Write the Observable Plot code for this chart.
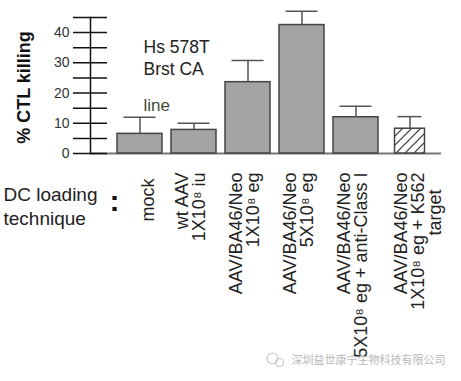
<!DOCTYPE html>
<html>
<head>
<meta charset="utf-8">
<script src="https://cdn.jsdelivr.net/npm/d3@7"></script>
<script src="https://cdn.jsdelivr.net/npm/@observablehq/plot@0.6"></script>
<style>
  html, body { margin: 0; padding: 0; background: #fff; }
</style>
</head>
<body>
<div id="chart"></div>
<script>
// ---- data ----
const categories = ["mock", "wtAAV", "AAV1e8", "AAV5e8", "AAVclassI", "AAVK562"];
const values = [6.5, 7.8, 23.6, 42.5, 12.0, 8.2];
const errorTops = [12.0, 10.0, 30.8, 47.1, 15.6, 12.2];
const hatched = [false, false, false, false, false, true];
const labelLines = [
  ["mock"],
  ["wt AAV", "1X10⁸ iu"],
  ["AAV/BA46/Neo", "1X10⁸ eg"],
  ["AAV/BA46/Neo", "5X10⁸ eg"],
  ["AAV/BA46/Neo", "5X10⁸ eg + anti-Class I"],
  ["AAV/BA46/Neo", "1X10⁸ eg + K562", "target"]
];
const yTickLabels = [0, 10, 20, 30, 40];
const yTickMarks = [0, 5, 10, 15, 20, 25, 30, 35, 40, 45];
const yTitle = "% CTL killing";
const xTitle = "DC loading\ntechnique";
const noteText = "Hs 578T\nBrst CA";
const noteText2 = "line";
const watermark = "深圳益世康宁生物科技有限公司";

const data = categories.map((c, i) => ({
  cat: c, value: values[i], upper: errorTops[i], hatched: hatched[i],
  lines: labelLines[i]
}));
const solid = data.filter(d => !d.hatched);
const hatch = data.filter(d => d.hatched);

const font = "'Liberation Sans', Arial, Helvetica, sans-serif";

const chart = Plot.plot({
  width: 461,
  height: 381,
  marginLeft: 90,
  marginRight: 20,
  marginTop: 17,
  marginBottom: 228,
  style: { fontFamily: font, background: "#fff", color: "#222", overflow: "visible" },
  x: { type: "band", domain: categories, range: [115.4, 432.6], paddingInner: 0.17, paddingOuter: 0, axis: null },
  y: { domain: [0, 45], axis: null },
  marks: [
    // baseline
    Plot.ruleY([0], { stroke: "#777", strokeWidth: 2 }),
    // y axis line
    Plot.frame({ anchor: "left", stroke: "#111", strokeWidth: 1.5 }),
    // ticks crossing the axis
    Plot.axisY({ ticks: yTickMarks, tickSize: 34, dx: 17, tickFormat: () => "", stroke: "#111", strokeWidth: 1.5 }),
    // tick labels
    Plot.axisY({ ticks: yTickLabels, tickSize: 0, tickPadding: 21, fontSize: 14, fill: "#333", label: null }),
    // bars
    Plot.barY(solid, { x: "cat", y: "value", fill: "#a4a4a4", stroke: "#444", strokeWidth: 1.5 }),
    Plot.barY(hatch, { x: "cat", y: "value", fill: "url(#hatch)", stroke: "#444", strokeWidth: 1.5, insetLeft: 7.5, insetRight: 7.5 }),
    // error bars
    Plot.ruleX(data, { x: "cat", y1: "value", y2: "upper", stroke: "#555", strokeWidth: 1.5 }),
    Plot.tickY(solid, { x: "cat", y: "upper", stroke: "#555", strokeWidth: 1.5, insetLeft: 6.5, insetRight: 6.5 }),
    Plot.tickY(hatch, { x: "cat", y: "upper", stroke: "#555", strokeWidth: 1.5, insetLeft: 10.5, insetRight: 10.5 }),
    // y title
    Plot.text([yTitle], { frameAnchor: "left", dx: -66, dy: 2, rotate: -90, textAnchor: "middle", lineAnchor: "middle", fontSize: 18, fontWeight: "bold", fill: "#111" }),
    // annotations
    Plot.text([noteText], { frameAnchor: "top-left", dx: 53, dy: 39.5, textAnchor: "start", lineAnchor: "middle", lineHeight: 1.24, fontSize: 17.5, fill: "#222" }),
    Plot.text([noteText2], { frameAnchor: "top-left", dx: 53, dy: 88, textAnchor: "start", lineAnchor: "middle", fontSize: 17, fill: "#3e4d34" }),
    // x category labels
    Plot.text(data.filter(d => d.cat === "mock"), { x: "cat", text: d => d.lines.join("\n"), frameAnchor: "bottom", dx: 8, dy: 25, rotate: -90, textAnchor: "end", lineAnchor: "middle", fontSize: 18, fill: "#222" }),
    Plot.text(data.filter(d => ["wtAAV", "AAV1e8", "AAV5e8", "AAVclassI"].includes(d.cat)), { x: "cat", text: d => d.lines.join("\n"), frameAnchor: "bottom", dx: -3, dy: 19, rotate: -90, textAnchor: "end", lineAnchor: "middle", lineHeight: 0.93, fontSize: 18, fill: "#222" }),
    Plot.text(hatch, { x: "cat", text: d => d.lines.slice(0, 2).join("\n"), frameAnchor: "bottom", dx: 0, dy: 19, rotate: -90, textAnchor: "end", lineAnchor: "middle", lineHeight: 0.93, fontSize: 18, fill: "#222" }),
    Plot.text(hatch, { x: "cat", text: d => d.lines[2], frameAnchor: "bottom", dx: 25, dy: 36, rotate: -90, textAnchor: "end", lineAnchor: "middle", fontSize: 18, fill: "#222" }),
    // x title and colon
    Plot.text([xTitle], { frameAnchor: "bottom-left", dx: -87, dy: 52, textAnchor: "start", lineAnchor: "middle", lineHeight: 1.26, fontSize: 19, fill: "#222" }),
    Plot.text([":"], { frameAnchor: "bottom-left", dx: 24, dy: 47.5, textAnchor: "middle", lineAnchor: "middle", fontSize: 30, fontWeight: "bold", fill: "#111" }),
    // watermark
    Plot.dot([0], { frameAnchor: "bottom-right", dx: -169, dy: 205, r: 5.5, stroke: "#c8c8c8", strokeWidth: 1.2, fill: "none" }),
    Plot.dot([0], { frameAnchor: "bottom-right", dx: -162, dy: 209, r: 4, stroke: "#c8c8c8", strokeWidth: 1.2, fill: "none" }),
    Plot.text([watermark], { frameAnchor: "bottom-right", dx: 4, dy: 207, textAnchor: "end", lineAnchor: "middle", fontSize: 11, fill: "#b8b8b8", fontFamily: "'Noto Sans CJK SC', sans-serif" })
  ]
});

// hatch pattern definition
const ns = "http://www.w3.org/2000/svg";
const defs = document.createElementNS(ns, "defs");
const pat = document.createElementNS(ns, "pattern");
pat.setAttribute("id", "hatch");
pat.setAttribute("patternUnits", "userSpaceOnUse");
pat.setAttribute("width", "9");
pat.setAttribute("height", "9");
const bg = document.createElementNS(ns, "rect");
bg.setAttribute("width", "9"); bg.setAttribute("height", "9"); bg.setAttribute("fill", "#fff");
const p = document.createElementNS(ns, "path");
p.setAttribute("d", "M0,9 L9,0 M-2,2 L2,-2 M7,11 L11,7");
p.setAttribute("stroke", "#333"); p.setAttribute("stroke-width", "1.2");
pat.appendChild(bg); pat.appendChild(p);
defs.appendChild(pat);
chart.insertBefore(defs, chart.firstChild);

document.getElementById("chart").appendChild(chart);
</script>
</body>
</html>
